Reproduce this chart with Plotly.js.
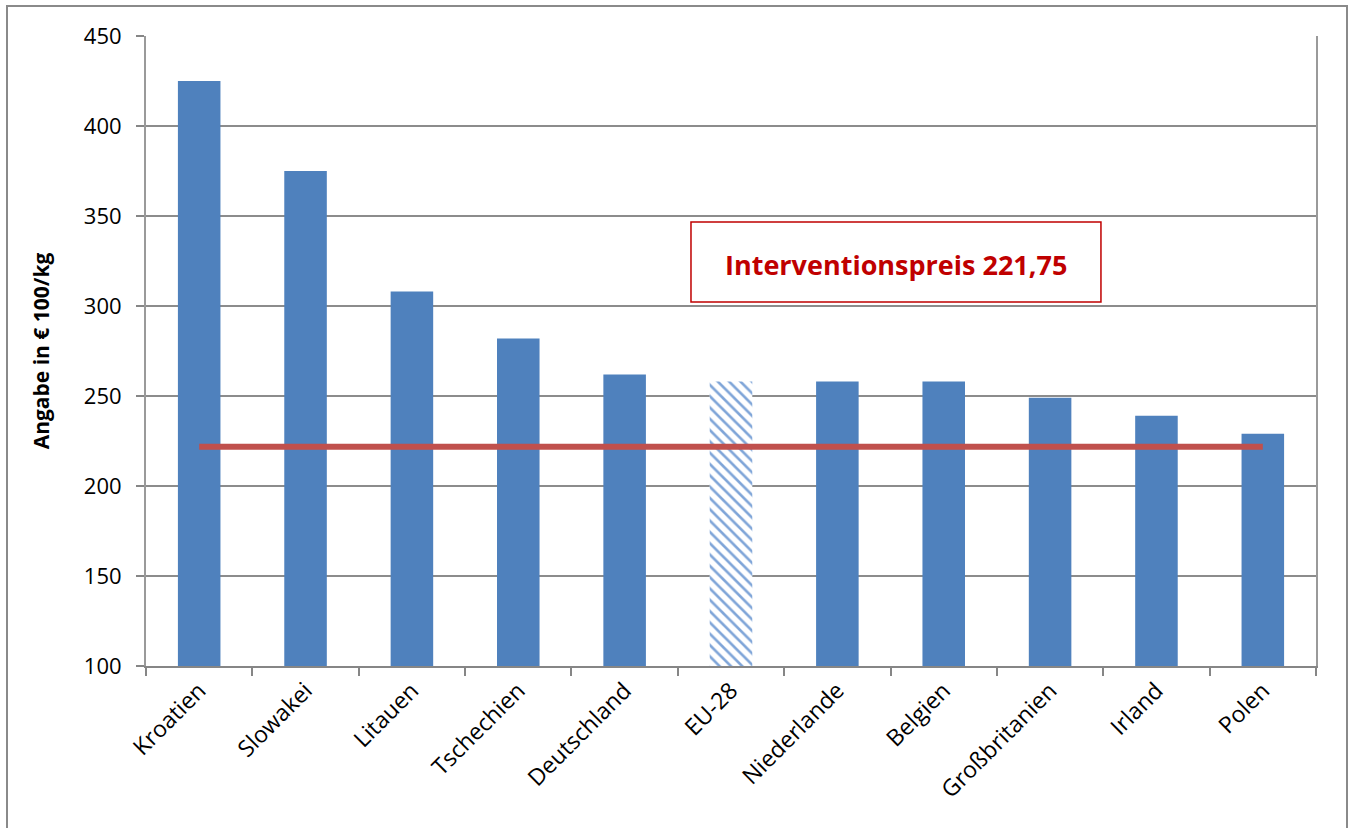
<!DOCTYPE html>
<html>
<head>
<meta charset="utf-8">
<script src="https://cdn.plot.ly/plotly-3.0.1.min.js"></script>
<style>
html,body{margin:0;padding:0;background:#fff;}
#chart{width:1351px;height:828px;}
</style>
</head>
<body>
<div id="chart"></div>
<script>
const categories = ["Kroatien","Slowakei","Litauen","Tschechien","Deutschland","EU-28","Niederlande","Belgien","Großbritanien","Irland","Polen"];
const prices = [425, 375, 308, 282, 262, 258, 258, 258, 249, 239, 229];
const highlighted = "EU-28";
const interventionPrice = 221.75;
const interventionLabel = "Interventionspreis 221,75";
const yTitle = "Angabe in € 100/kg";
const yTicks = [100, 150, 200, 250, 300, 350, 400, 450];

const fontFam = "Open Sans, Noto Sans, sans-serif";
const barBlue = "#4f81bd";
const isEU = categories.map(c => c === highlighted);
const euIdx = categories.indexOf(highlighted);

const traces = [
  {
    type: "bar",
    x: categories,
    y: prices,
    marker: {
      color: isEU.map(e => e ? "#ffffff" : barBlue),
      line: {width: 0}
    },
    hoverinfo: "x+y",
    showlegend: false
  },
  {
    type: "bar",
    x: [categories[euIdx]],
    y: [prices[euIdx]],
    marker: {
      color: "#7fa5d8",
      line: {width: 0},
      pattern: {
        shape: "\\",
        size: 8,
        solidity: 0.33,
        fillmode: "replace"
      }
    },
    hoverinfo: "x+y",
    showlegend: false
  },
  {
    type: "scatter",
    mode: "lines",
    x: categories,
    y: categories.map(() => interventionPrice),
    line: {color: "#c0504d", width: 6},
    showlegend: false
  }
];

const layout = {
  width: 1351,
  height: 828,
  margin: {l: 146, r: 35, t: 36, b: 162},
  paper_bgcolor: "#ffffff",
  plot_bgcolor: "#ffffff",
  barmode: "overlay",
  bargap: 0.6,
  font: {family: fontFam, size: 18, color: "#000"},
  xaxis: {
    type: "category",
    tickangle: -45,
    ticks: "outside",
    tickson: "boundaries",
    ticklen: 8,
    tickcolor: "#868686",
    tickwidth: 2,
    showline: true,
    linecolor: "#868686",
    linewidth: 2,
    showgrid: false,
    tickfont: {family: fontFam, size: 23},
    fixedrange: true
  },
  yaxis: {
    range: [100, 450],
    tickvals: yTicks,
    ticks: "outside",
    ticklen: 8,
    tickcolor: "#868686",
    tickwidth: 2,
    ticklabelstandoff: 10,
    showline: true,
    mirror: true,
    linecolor: "#9a9a9a",
    linewidth: 2,
    showgrid: true,
    gridcolor: "#8c8c8c",
    gridwidth: 1.5,
    zeroline: false,
    automargin: true,
    tickfont: {family: fontFam, size: 22},
    title: {text: "<b>" + yTitle + "</b>", font: {family: fontFam, size: 21}, standoff: 28},
    fixedrange: true
  },
  shapes: [
    {type: "rect", xref: "paper", yref: "paper",
     x0: -0.1188, x1: 1.0265, y0: -0.30, y1: 1.0476,
     line: {color: "#8a8a8a", width: 2}, fillcolor: "rgba(0,0,0,0)", layer: "below"},
    {type: "rect", xref: "paper", yref: "paper",
     x0: 0.4658, x1: 0.8162, y0: 0.5778, y1: 0.7048,
     line: {color: "#c00000", width: 1.5}, fillcolor: "#ffffff", layer: "above"}
  ],
  annotations: [
    {xref: "paper", yref: "paper", x: 0.641, y: 0.638,
     text: "<b>" + interventionLabel + "</b>", showarrow: false,
     font: {family: fontFam, size: 27, color: "#c00000"},
     xanchor: "center", yanchor: "middle"}
  ]
};

Plotly.newPlot("chart", traces, layout, {displayModeBar: false, staticPlot: true});
</script>
</body>
</html>
